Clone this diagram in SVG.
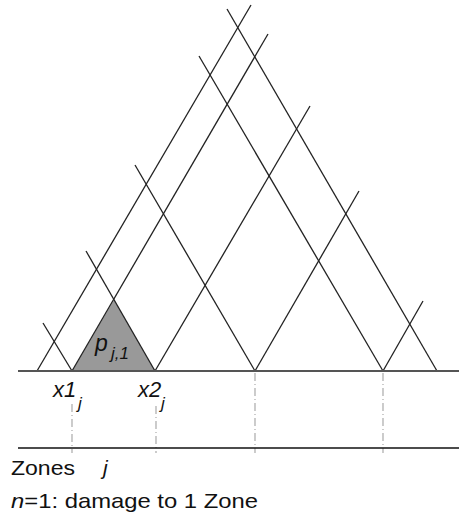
<svg xmlns="http://www.w3.org/2000/svg" width="459" height="521" viewBox="0 0 459 521">
<style>
.ln{stroke:#222;stroke-width:1.3;fill:none}
.dd{stroke:#aaa;stroke-width:1.2;stroke-dasharray:8 3 1 3;fill:none}
text{font-family:"Liberation Sans",Arial,sans-serif;fill:#111}
.it{font-style:italic}
</style>
<rect width="459" height="521" fill="#fff"/>
<g id="zone-fill">
<polygon points="72,371 155,371 114,300" fill="#999"/>
</g>
<g id="guides">
<line class="dd" x1="72" y1="404" x2="72" y2="453"/>
<line class="dd" x1="156" y1="406" x2="156" y2="453"/>
<line class="dd" x1="255" y1="373" x2="255" y2="453"/>
<line class="dd" x1="383" y1="373" x2="383" y2="453"/>
</g>
<g id="lines">
<line class="ln" x1="37" y1="371" x2="251" y2="5"/>
<line class="ln" x1="72" y1="371" x2="268" y2="34"/>
<line class="ln" x1="155" y1="371" x2="310" y2="106"/>
<line class="ln" x1="255" y1="371" x2="359" y2="191"/>
<line class="ln" x1="383" y1="371" x2="423" y2="301"/>
<line class="ln" x1="227" y1="9" x2="437" y2="371"/>
<line class="ln" x1="199" y1="56" x2="383" y2="371"/>
<line class="ln" x1="135" y1="165" x2="255" y2="371"/>
<line class="ln" x1="86" y1="251" x2="155" y2="371"/>
<line class="ln" x1="43" y1="323" x2="72" y2="371"/>
</g>
<g id="axes">
<line x1="18" y1="371" x2="459" y2="371" stroke="#555" stroke-width="1.8"/>
<line x1="18" y1="448" x2="459" y2="448" stroke="#111" stroke-width="1.6"/>
</g>
<g id="labels">
<text x="95" y="351" font-size="23" class="it">p</text>
<text x="111" y="359" font-size="17" class="it">j,1</text>
<text x="53" y="397" font-size="22" class="it">x1</text>
<text x="78" y="409" font-size="17" class="it">j</text>
<text x="138" y="397" font-size="22" class="it">x2</text>
<text x="161" y="409" font-size="17" class="it">j</text>
<text x="11" y="475" font-size="21" textLength="64" lengthAdjust="spacingAndGlyphs">Zones</text>
<text x="103" y="475" font-size="21" class="it">j</text>
<text x="11" y="508" font-size="21" textLength="247" lengthAdjust="spacingAndGlyphs"><tspan class="it">n</tspan>=1: damage to 1 Zone</text>
</g>
</svg>
